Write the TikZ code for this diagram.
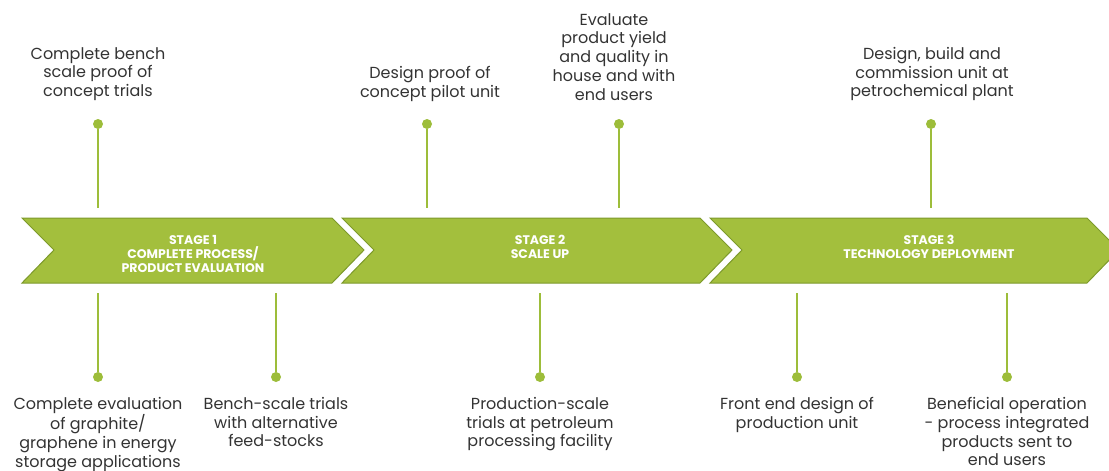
\documentclass[tikz,border=0pt]{standalone}
\usepackage{fontspec}
\setmainfont{Poppins}
\usepackage{tikz}
\usetikzlibrary{positioning}

\definecolor{stagegreen}{HTML}{A3BF3D}
\definecolor{stageedge}{HTML}{7D9A2B}
\definecolor{linegreen}{HTML}{9DBD3A}
\definecolor{txtgray}{HTML}{333333}

\begin{document}
\begin{tikzpicture}[x=1pt, y=-1pt,
  chev/.style = {fill=stagegreen, draw=stageedge, line width=1pt},
  stagelbl/.style = {text=white, align=center, font=\bfseries\fontsize{12.5}{14}\selectfont, inner sep=0pt},
  milestone/.style = {circle, fill=linegreen, inner sep=0pt, minimum size=10pt},
  desc/.style = {text=txtgray, align=center, anchor=north, inner sep=0pt, font=\fontsize{16}{18.8}\selectfont},
  tick/.style = {draw=linegreen, line width=2pt}]
\useasboundingbox (0,0) rectangle (1109,471);
\begin{scope}
\clip (0,0) rectangle (1109,471);
% the three stage arrows
\draw[chev] (22,218) -- (332,218) -- (364,250) -- (332,283) -- (22,283) -- (54,250) -- cycle;
\draw[chev] (342,218) -- (700,218) -- (732,250) -- (700,283) -- (342,283) -- (374,250) -- cycle;
\draw[chev] (710,218) -- (1087,218) -- (1119,250) -- (1087,283) -- (710,283) -- (742,250) -- cycle;
\end{scope}
\node[stagelbl] (s1) at (193,254) {STAGE 1\\COMPLETE PROCESS/\\PRODUCT EVALUATION};
\node[stagelbl] (s2) at (540,247) {STAGE 2\\SCALE UP};
\node[stagelbl] (s3) at (929,247) {STAGE 3\\TECHNOLOGY DEPLOYMENT};

% above the arrows
\node[milestone] (t1) at (98,124) {};
\node[milestone] (t2) at (427,124) {};
\node[milestone] (t3) at (619,124) {};
\node[milestone] (t4) at (931,124) {};
\coordinate (t1e) at (98,208);
\coordinate (t2e) at (427,208);
\coordinate (t3e) at (619,208);
\coordinate (t4e) at (931,208);
\node[desc] (tx1) at (98,47) {Complete bench\\scale proof of\\concept trials};
\node[desc] (tx2) at (430,66) {Design proof of\\concept pilot unit};
\node[desc] (tx3) at (614,13) {Evaluate\\product yield\\and quality in\\house and with\\end users};
\node[desc] (tx4) at (932,47) {Design, build and\\commission unit at\\petrochemical plant};

% below the arrows
\node[milestone] (b1) at (98,377) {};
\node[milestone] (b2) at (276,377) {};
\node[milestone] (b3) at (540,377) {};
\node[milestone] (b4) at (797,377) {};
\node[milestone] (b5) at (1007,377) {};
\coordinate (b1e) at (98,293);
\coordinate (b2e) at (276,293);
\coordinate (b3e) at (540,293);
\coordinate (b4e) at (797,293);
\coordinate (b5e) at (1007,293);
\node[desc] (bx1) at (98,397) {Complete evaluation\\of graphite/\\graphene in energy\\storage applications};
\node[desc] (bx2) at (276,397) {Bench-scale trials\\with alternative\\feed-stocks};
\node[desc] (bx3) at (540,397) {Production-scale\\trials at petroleum\\processing facility};
\node[desc] (bx4) at (797,397) {Front end design of\\production unit};
\node[desc] (bx5) at (1007,397) {Beneficial operation\\- process integrated\\products sent to\\end users};

\draw[tick] (t1) -- (t1e);
\draw[tick] (t2) -- (t2e);
\draw[tick] (t3) -- (t3e);
\draw[tick] (t4) -- (t4e);
\draw[tick] (b1) -- (b1e);
\draw[tick] (b2) -- (b2e);
\draw[tick] (b3) -- (b3e);
\draw[tick] (b4) -- (b4e);
\draw[tick] (b5) -- (b5e);
\end{tikzpicture}
\end{document}
